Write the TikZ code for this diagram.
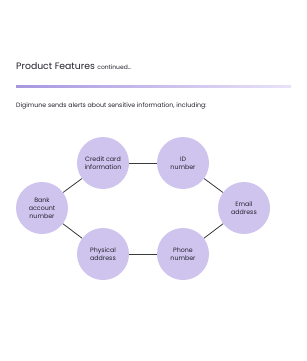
\documentclass[tikz,border=0pt]{standalone}
\usepackage{fontspec}
\setmainfont{Poppins}
\definecolor{circ}{HTML}{CFC4EE}
\definecolor{lineA}{HTML}{A697DF}
\definecolor{lineB}{HTML}{E8E3F8}
\definecolor{txt}{HTML}{22222D}
\definecolor{edge}{HTML}{3A3A3A}
\tikzset{
  item/.style={circle, fill=circ, minimum size=52pt, inner sep=0pt, align=center,
    font=\fontsize{6.3}{8.2}\selectfont, text=txt},
  link/.style={draw=edge, line width=0.8pt}
}
\begin{document}
\begin{tikzpicture}[x=1pt,y=-1pt]
\useasboundingbox[fill=white] (0,0) rectangle (306,361);
\node[anchor=base west, inner sep=0pt, text=txt] (title) at (16,70)
  {\fontsize{9.3}{12}\selectfont Product Features \fontsize{6}{8}\selectfont continued...};
\shade[left color=lineA, right color=lineB] (16,85) rectangle (291,87.5);
\node[anchor=base west, inner sep=0pt, text=txt, font=\fontsize{6.27}{8}\selectfont] (intro) at (16,107)
  {Digimune sends alerts about sensitive information, including:};
\node[item] (cc) at (103,163) {Credit card\\information};
\node[item] (id) at (183,163) {ID\\number};
\node[item] (bank) at (42,208) {Bank\\account\\number};
\node[item] (email) at (244,208) {Email\\address};
\node[item] (phys) at (103,254) {Physical\\address};
\node[item] (phone) at (183,254) {Phone\\number};
\draw[link] (bank) -- (cc);
\draw[link] (cc) -- (id);
\draw[link] (id) -- (email);
\draw[link] (email) -- (phone);
\draw[link] (phone) -- (phys);
\draw[link] (phys) -- (bank);
\end{tikzpicture}
\end{document}
